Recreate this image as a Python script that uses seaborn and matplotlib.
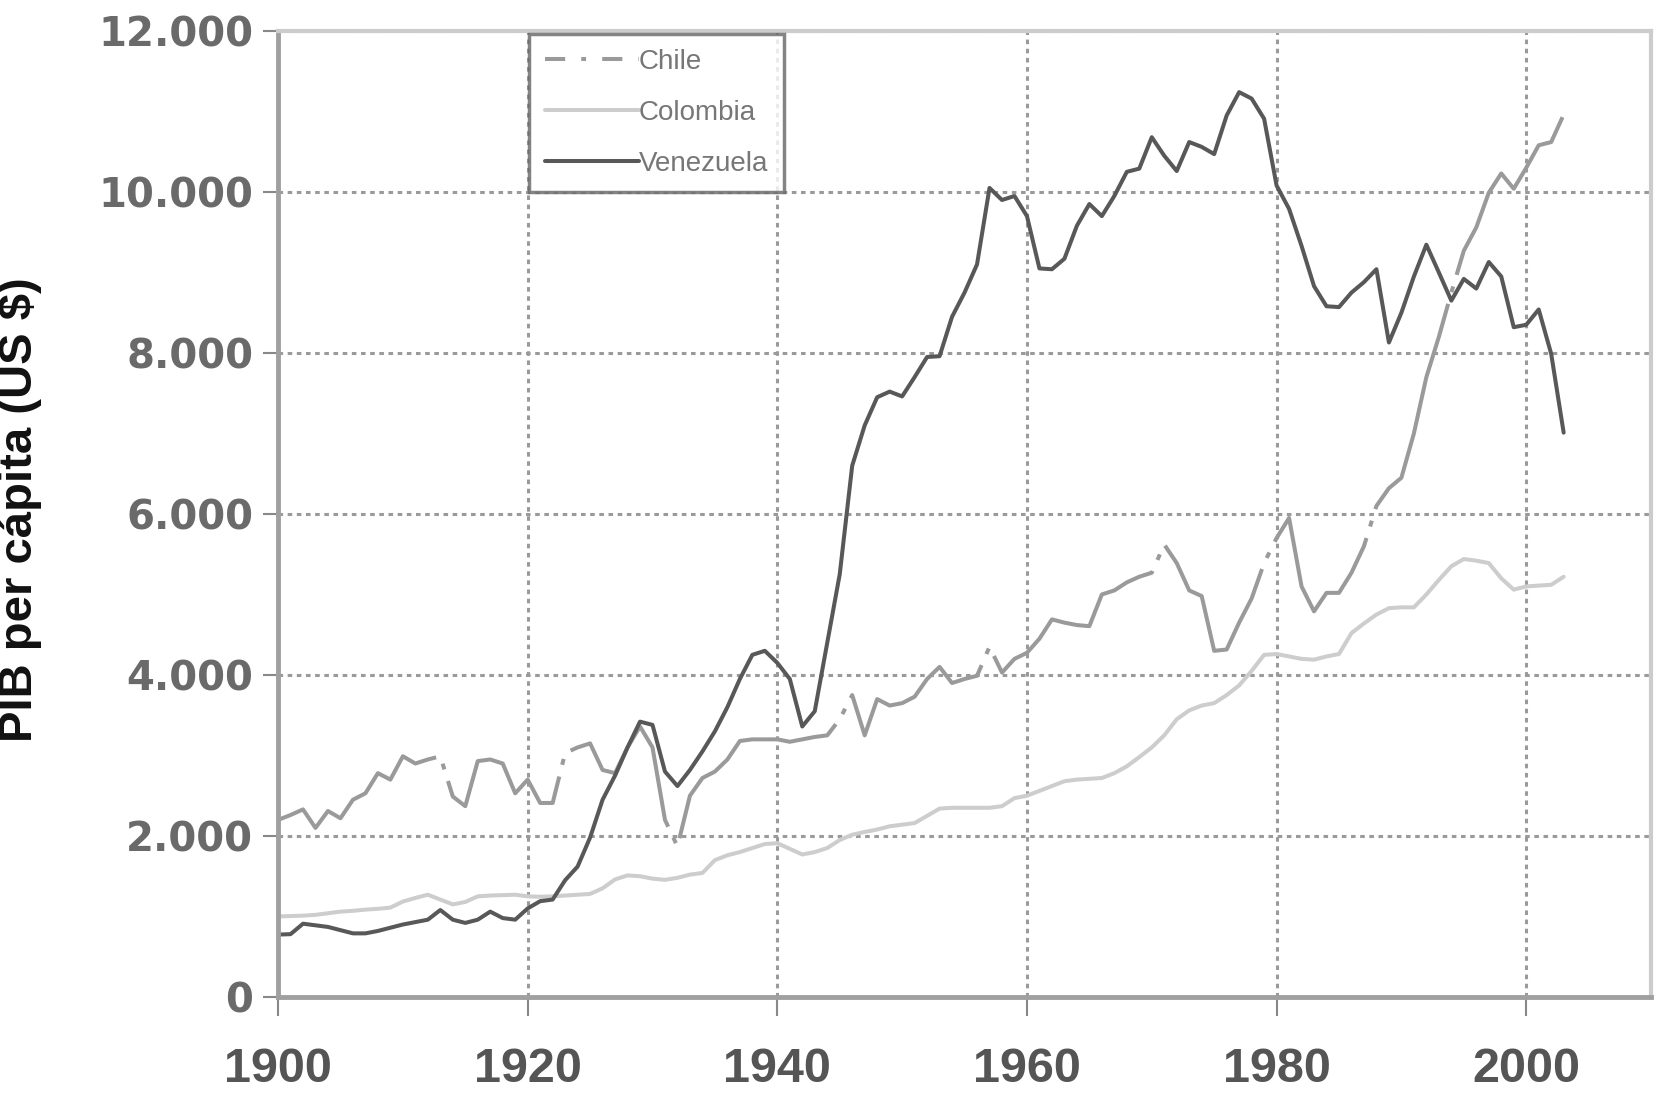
import numpy as np
import pandas as pd
import matplotlib
matplotlib.use("Agg")
import matplotlib.pyplot as plt
from matplotlib import font_manager
import seaborn as sns

years = list(range(1900, 2004))

chile = [2200, 2260, 2330, 2100, 2310, 2220, 2450, 2530, 2780, 2700,
         2990, 2900, 2950, 2990, 2490, 2370, 2930, 2950, 2900, 2530,
         2700, 2410, 2410, 3030, 3100, 3150, 2820, 2780, 3100, 3360,
         3100, 2200, 1870, 2500, 2720, 2800, 2950, 3180, 3200, 3200,
         3200, 3170, 3200, 3230, 3250, 3450, 3750, 3250, 3700, 3620,
         3650, 3730, 3950, 4100, 3900, 3950, 3990, 4350, 4030, 4200,
         4275, 4450, 4690, 4650, 4620, 4606, 5000, 5050, 5150, 5220,
         5270, 5620, 5390, 5050, 4980, 4300, 4316, 4650, 4950, 5390,
         5700, 5950, 5100, 4790, 5020, 5020, 5270, 5600, 6100, 6320,
         6450, 7000, 7700, 8200, 8750, 9270, 9560, 9990, 10230, 10040,
         10300, 10580, 10620, 10960]

colombia = [1000, 1005, 1010, 1020, 1040, 1060, 1070, 1085, 1095, 1110,
            1185, 1230, 1270, 1210, 1150, 1180, 1250, 1260, 1265, 1270,
            1250, 1245, 1250, 1260, 1270, 1280, 1350, 1460, 1510, 1500,
            1470, 1455, 1480, 1520, 1540, 1700, 1760, 1800, 1850, 1900,
            1910, 1840, 1770, 1800, 1850, 1950, 2015, 2050, 2080, 2120,
            2140, 2160, 2250, 2340, 2350, 2350, 2350, 2350, 2370, 2470,
            2500, 2560, 2620, 2680, 2700, 2710, 2720, 2780, 2865, 2980,
            3100, 3250, 3450, 3560, 3620, 3650, 3750, 3870, 4050, 4250,
            4260, 4230, 4200, 4190, 4230, 4260, 4520, 4640, 4750, 4830,
            4840, 4840, 5000, 5180, 5350, 5440, 5420, 5390, 5200, 5060,
            5100, 5110, 5120, 5220]

venezuela = [775, 780, 910, 890, 870, 830, 790, 790, 820, 860,
             900, 930, 960, 1080, 960, 920, 960, 1060, 980, 960,
             1100, 1190, 1210, 1450, 1620, 1980, 2450, 2750, 3100, 3420,
             3380, 2800, 2620, 2820, 3050, 3300, 3600, 3950, 4250, 4300,
             4150, 3950, 3360, 3550, 4400, 5250, 6600, 7100, 7450, 7520,
             7460, 7700, 7950, 7960, 8450, 8750, 9100, 10050, 9900, 9950,
             9700, 9050, 9040, 9170, 9580, 9850, 9700, 9950, 10250, 10290,
             10680, 10450, 10260, 10620, 10560, 10470, 10950, 11240, 11160, 10910,
             10080, 9790, 9330, 8830, 8580, 8570, 8750, 8880, 9040, 8130,
             8500, 8950, 9345, 9000, 8650, 8920, 8800, 9130, 8950, 8320,
             8350, 8540, 7990, 7010]

series_names = ["Chile", "Colombia", "Venezuela"]
x_ticks = [1900, 1920, 1940, 1960, 1980, 2000]
y_ticks = [0, 2000, 4000, 6000, 8000, 10000, 12000]
y_tick_labels = ["0", "2.000", "4.000", "6.000", "8.000", "10.000", "12.000"]

sns.set_style("white")

avail = {f.name for f in font_manager.fontManager.ttflist}
narrow = "Liberation Sans Narrow" if "Liberation Sans Narrow" in avail else "Liberation Sans"

plt.rcParams['font.family'] = ['DejaVu Sans']

fig = plt.figure(figsize=(16.6, 10.94), dpi=100)
ax = fig.add_axes([0.1675, 0.0887, 0.9946 - 0.1675, 0.9717 - 0.0887])

df = pd.DataFrame({"year": years * 3,
                   "value": chile + colombia + venezuela,
                   "pais": ["Chile"] * len(years) + ["Colombia"] * len(years) + ["Venezuela"] * len(years)})

palette = {"Chile": "#9a9a9a", "Colombia": "#cdcdcd", "Venezuela": "#585858"}
sns.lineplot(data=df, x="year", y="value", hue="pais", palette=palette,
             hue_order=series_names, linewidth=2.9, ax=ax, legend=True)

lines = ax.get_lines()
lines[0].set_dashes([55, 3, 1.5, 3])

ax.set_xlim(1900, 2010)
ax.set_ylim(0, 12000)
ax.set_xticks(x_ticks)
ax.set_yticks(y_ticks)
ax.set_yticklabels(y_tick_labels)

ax.grid(True, color="#9a9a9a", linestyle=(0, (1.5, 1.5)), linewidth=2.2)
ax.set_axisbelow(True)

for side in ["left", "bottom"]:
    ax.spines[side].set_color("#a0a0a0")
    ax.spines[side].set_linewidth(3.5)
for side in ["top", "right"]:
    ax.spines[side].set_color("#cccccc")
    ax.spines[side].set_linewidth(3.0)

ax.tick_params(axis="y", direction="out", length=11, width=1.5, color="#888888",
               labelsize=29, labelcolor="#6a6a6a", pad=7, left=True)
ax.tick_params(axis="x", direction="out", length=14, width=1.5, color="#888888",
               labelsize=35, labelcolor="#555555", pad=22, bottom=True)
for lab in ax.get_yticklabels():
    lab.set_fontweight("bold")
for lab in ax.get_xticklabels():
    lab.set_fontfamily(narrow)
    lab.set_fontweight("bold")

ax.set_xlabel("")
ax.set_ylabel("PIB per cápita (US $)", fontsize=34, fontweight="bold",
              family=narrow, color="#111111")
ax.yaxis.set_label_coords(-0.172, 0.504)

leg = ax.legend(loc="upper left", bbox_to_anchor=(0.183, 0.997),
                frameon=True, fancybox=False, handlelength=3.4,
                handletextpad=0.0, labelspacing=0.9, borderpad=0.55,
                borderaxespad=0.0, prop={"family": narrow, "size": 20})
leg.get_frame().set_edgecolor("#666666")
leg.get_frame().set_linewidth(2.5)
for t in leg.get_texts():
    t.set_color("#777777")
leg_lines = leg.get_lines()
leg_lines[0].set_dashes([5, 4, 1.2, 4])
for ll in leg_lines:
    ll.set_linewidth(2.9)

fig.savefig("out.png", dpi=100, facecolor="white")
